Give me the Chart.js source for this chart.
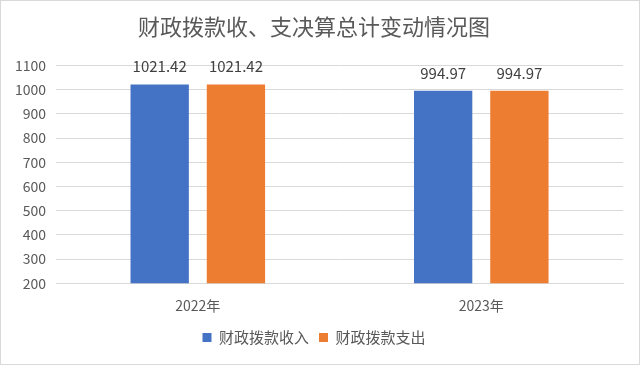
<!DOCTYPE html>
<html><head><meta charset="utf-8">
<script src="https://cdn.jsdelivr.net/npm/chart.js@4.4.0/dist/chart.umd.min.js"></script>
<style>
html,body{margin:0;padding:0;background:#fff;}
#wrap{position:absolute;left:0;top:0;width:638px;height:363px;border:1px solid #d9d9d9;}
</style></head>
<body><div id="wrap"><canvas id="c" width="638" height="363"></canvas></div>
<script>
const categories = ['2022年', '2023年'];
const income = [1021.42, 994.97];
const expense = [1021.42, 994.97];
const seriesNames = ['财政拨款收入', '财政拨款支出'];
const yTicks = [200, 300, 400, 500, 600, 700, 800, 900, 1000, 1100];
const FONT = '"Noto Sans CJK SC", "Microsoft YaHei", sans-serif';

const labelPlugin = {
  id: 'labels',
  afterDatasetsDraw(chart) {
    const ctx = chart.ctx;
    ctx.save();
    ctx.font = '15px ' + FONT;
    ctx.fillStyle = '#404040';
    ctx.textAlign = 'center';
    ctx.textBaseline = 'middle';
    chart.data.datasets.forEach((ds, i) => {
      chart.getDatasetMeta(i).data.forEach((bar, j) => {
        ctx.fillText(ds.data[j].toFixed(2), bar.x, bar.y - 18);
      });
    });
    ctx.restore();
  }
};

new Chart(document.getElementById('c'), {
  type: 'bar',
  data: {
    labels: categories,
    datasets: [
      { label: seriesNames[0], data: income, backgroundColor: '#4472C4' },
      { label: seriesNames[1], data: expense, backgroundColor: '#ED7D31' }
    ]
  },
  options: {
    responsive: false,
    animation: false,
    layout: { padding: { left: 4, right: 16, top: 0, bottom: 9 } },
    datasets: { bar: { categoryPercentage: 0.538, barPercentage: 0.765 } },
    plugins: {
      title: {
        display: true,
        text: '财政拨款收、支决算总计变动情况图',
        color: '#595959',
        font: { family: FONT, size: 22, weight: 'normal' },
        padding: { top: 12, bottom: 26 }
      },
      legend: {
        position: 'bottom',
        labels: {
          color: '#595959',
          font: { family: FONT, size: 15 },
          boxWidth: 9, boxHeight: 9, padding: 10
        }
      },
      tooltip: { enabled: false }
    },
    scales: {
      x: {
        grid: { display: false },
        border: { color: '#d9d9d9' },
        ticks: { color: '#595959', font: { family: FONT, size: 14 }, padding: 6 }
      },
      y: {
        min: 200, max: 1100,
        afterBuildTicks(scale) { scale.ticks = yTicks.map(v => ({ value: v })); },
        grid: { color: '#d9d9d9', drawTicks: false },
        border: { display: false },
        ticks: { color: '#595959', font: { family: FONT, size: 14 }, padding: 10,
                 callback: v => String(v) }
      }
    }
  },
  plugins: [labelPlugin]
});
</script></body></html>
